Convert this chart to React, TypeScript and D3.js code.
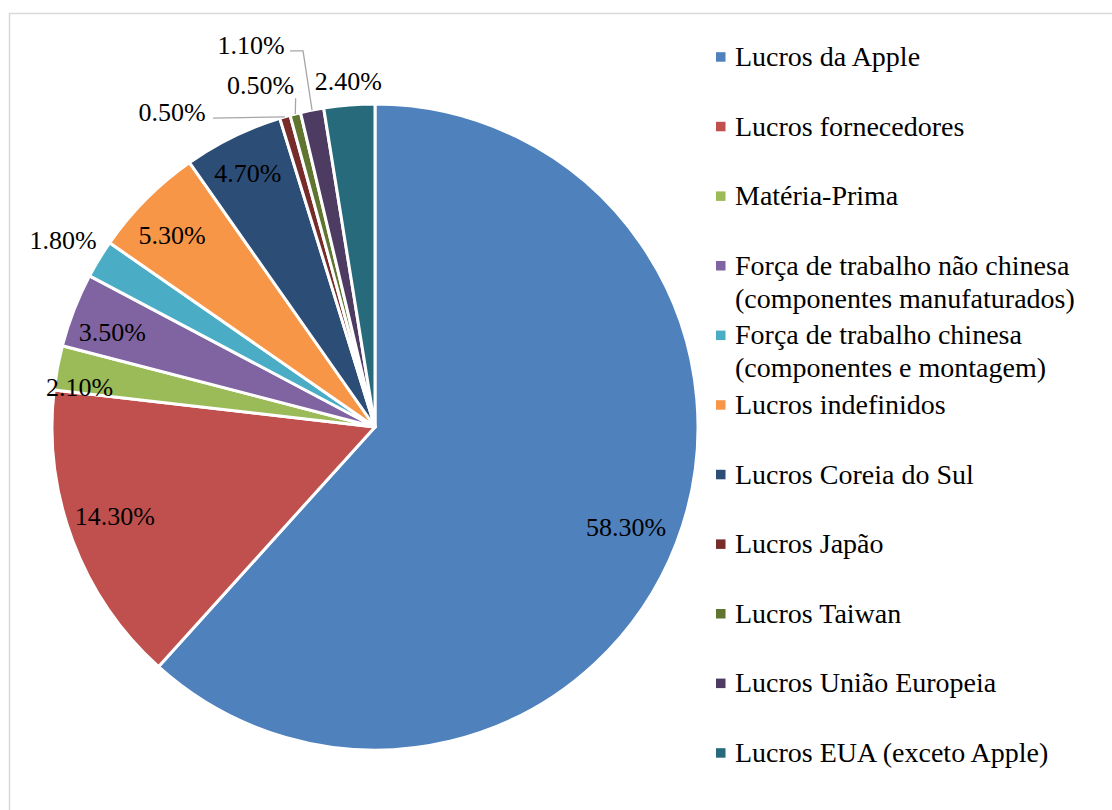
import React from "react";
import * as d3 from "d3";

const categories = [
  "Lucros da Apple",
  "Lucros fornecedores",
  "Matéria-Prima",
  "Força de trabalho não chinesa (componentes manufaturados)",
  "Força de trabalho chinesa (componentes e montagem)",
  "Lucros indefinidos",
  "Lucros Coreia do Sul",
  "Lucros Japão",
  "Lucros Taiwan",
  "Lucros União Europeia",
  "Lucros EUA (exceto Apple)",
];
const legendLines = [
  ["Lucros da Apple"],
  ["Lucros fornecedores"],
  ["Matéria-Prima"],
  ["Força de trabalho não chinesa", "(componentes manufaturados)"],
  ["Força de trabalho chinesa", "(componentes e montagem)"],
  ["Lucros indefinidos"],
  ["Lucros Coreia do Sul"],
  ["Lucros Japão"],
  ["Lucros Taiwan"],
  ["Lucros União Europeia"],
  ["Lucros EUA (exceto Apple)"],
];
const values = [58.3, 14.3, 2.1, 3.5, 1.8, 5.3, 4.7, 0.5, 0.5, 1.1, 2.4];
const labels = ["58.30%", "14.30%", "2.10%", "3.50%", "1.80%", "5.30%", "4.70%", "0.50%", "0.50%", "1.10%", "2.40%"];
const colors = [
  "#4F81BD", "#C0504D", "#9BBB59", "#8064A2", "#4BACC6", "#F79646",
  "#2C4D75", "#772C2A", "#5F7530", "#4D3B62", "#276A7C",
];

// label placement: polar angle (deg, clockwise from top) and radius factor
const labelPolar: [number, number][] = [
  [111.7, 0.837],
  [251.1, 0.851],
  [277.6, 0.923],
  [289.8, 0.864],
  [300.9, 1.125],
  [313.4, 0.865],
  [333.4, 0.879],
  [327.2, 1.16],
  [341.5, 1.116],
  [342.0, 1.242],
  [355.6, 1.073],
];
// leader lines: start offset from label centre, optional horizontal elbow
const leaders: ({ dx: number; dy: number; elbow: number } | null)[] = [
  null, null, null, null, null, null, null,
  { dx: 41, dy: 6, elbow: 0 },
  { dx: 35, dy: 13, elbow: 0 },
  { dx: 39, dy: 5.5, elbow: 13 },
  null,
];

const W = 1112;
const H = 810;
const cx = 375;
const cy = 427;
const R = 323;
const FONT = "Liberation Serif, Times New Roman, Tinos, DejaVu Serif, serif";
const labelSize = 26;
const legendSize = 28;

export default function App() {
  const pie = d3.pie<number>().sort(null).value((d) => d).startAngle(0).endAngle(2 * Math.PI);
  const arcs = pie(values);
  const arc = d3.arc<d3.PieArcDatum<number>>().innerRadius(0).outerRadius(R);

  const polar = (angDeg: number, r: number) => {
    const a = (angDeg * Math.PI) / 180;
    return [cx + r * Math.sin(a), cy - r * Math.cos(a)];
  };

  const legendX = 716;
  const legendTop = 56.7;
  const legendStep = 69.6;
  const txtStyle = { fontFamily: FONT };

  return (
    <svg
      width={W}
      height={H}
      style={{ position: "absolute", left: 0, top: 0, background: "#fff" }}
    >
      <rect x={9.5} y={13.5} width={W + 20} height={H + 20} fill="#fff" stroke="#D9D9D9" strokeWidth={1.5} />
      <g transform={`translate(${cx},${cy})`}>
        {arcs.map((a, i) => (
          <path key={i} d={arc(a) || ""} fill={colors[i]} stroke="#fff" strokeWidth={3} strokeLinejoin="round" />
        ))}
      </g>
      {arcs.map((a, i) => {
        const ld = leaders[i];
        if (!ld) return null;
        const [lx, ly] = polar(labelPolar[i][0], labelPolar[i][1] * R);
        const mid = ((a.startAngle + a.endAngle) / 2) * 180 / Math.PI;
        const [ex, ey] = polar(mid, R);
        const sx = lx + ld.dx;
        const sy = ly + ld.dy;
        const pts = ld.elbow ? [[sx, sy], [sx + ld.elbow, sy], [ex, ey]] : [[sx, sy], [ex, ey]];
        return (
          <polyline
            key={"l" + i}
            points={pts.map((p) => p.join(",")).join(" ")}
            fill="none"
            stroke="#A6A6A6"
            strokeWidth={1.3}
          />
        );
      })}
      {labels.map((t, i) => {
        const [lx, ly] = polar(labelPolar[i][0], labelPolar[i][1] * R);
        return (
          <text key={"t" + i} x={lx} y={ly + labelSize * 0.33} textAnchor="middle" fontSize={labelSize} fill="#000" style={txtStyle}>
            {t}
          </text>
        );
      })}
      {legendLines.map((lines, i) => {
        const ym = legendTop + i * legendStep;
        return (
          <g key={"g" + i}>
            <rect x={legendX} y={ym - 4.5} width={9.5} height={9.5} fill={colors[i]} />
            {lines.map((ln, j) => (
              <text key={j} x={735} y={ym + legendSize * 0.33 + j * 33} fontSize={legendSize} fill="#000" style={txtStyle}>
                {ln}
              </text>
            ))}
          </g>
        );
      })}
    </svg>
  );
}
